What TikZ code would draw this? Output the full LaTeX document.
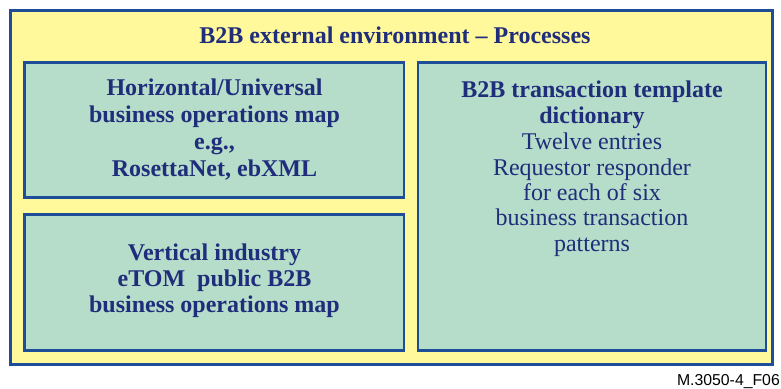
\documentclass[tikz,border=0pt]{standalone}
\usepackage{fontspec}
\setmainfont{Liberation Serif}
\newfontfamily\labelfont{Liberation Sans}
\definecolor{bordblue}{HTML}{1F4E99}
\definecolor{txtblue}{HTML}{1F2D7B}
\definecolor{outyellow}{HTML}{FFF99C}
\definecolor{boxgreen}{HTML}{B5DDC9}
\tikzset{
  outerbox/.style={draw=bordblue, fill=outyellow, line width=2.7pt},
  innerbox/.style={draw=bordblue, fill=boxgreen, line width=2.7pt},
  boldtxt/.style={text=txtblue, font=\fontsize{24}{27}\selectfont\bfseries, align=center, anchor=base, inner sep=0pt},
  plaintxt/.style={text=txtblue, font=\fontsize{24}{25.3}\selectfont, align=center, anchor=base, inner sep=0pt},
}
\begin{document}
\begin{tikzpicture}[x=1pt,y=-1pt]
\useasboundingbox (0,0) rectangle (781,388);
\fill[white] (0,0) rectangle (781,388);
\draw[outerbox] (10.7,10.7) rectangle (772.8,364.7);
\draw[innerbox] (24.7,62.7) rectangle (404,197.3);
\draw[innerbox] (24.7,214.7) rectangle (404,350.3);
\draw[innerbox] (418,62.7) rectangle (766,350.8);
\node[boldtxt] (title) at (395,43) {B2B external environment – Processes};
\node[boldtxt] (hor) at (214.5,176) {Horizontal/Universal\\business operations map\\e.g.,\\RosettaNet, ebXML};
\node[boldtxt, font=\fontsize{24}{26}\selectfont\bfseries] (vert) at (214.5,312) {Vertical industry\\eTOM\ \ public B2B\\business operations map};
\node[boldtxt, font=\fontsize{24}{26}\selectfont\bfseries] (dict) at (592,123) {B2B transaction template\\dictionary};
\node[plaintxt] (entries) at (592,251) {Twelve entries\\Requestor responder\\for each of six\\business transaction\\patterns};
\node[text=black, font=\labelfont\fontsize{15.8}{18}\selectfont, anchor=base east, inner sep=0pt] (fig) at (780,385) {M.3050-4\_F06};
\end{tikzpicture}
\end{document}
